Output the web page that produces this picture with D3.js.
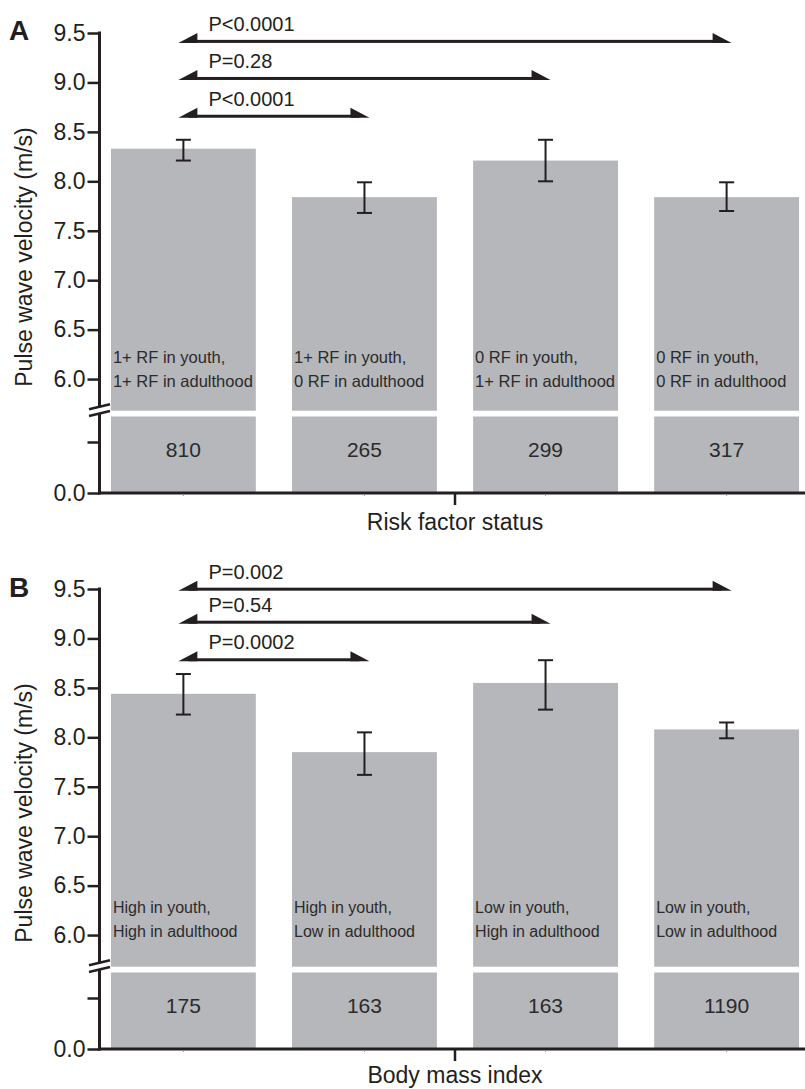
<!DOCTYPE html>
<html>
<head>
<meta charset="utf-8">
<script src="https://cdn.jsdelivr.net/npm/d3@7"></script>
<style>
  body { margin: 0; background: #fff; }
  text { font-family: Arial, "Liberation Sans", Helvetica, sans-serif; }
</style>
</head>
<body>
<div id="chart"></div>
<script>
const width = 805;
const height = 1089;

// panel A - risk factor status
const groupsA = [
  ["1+ RF in youth,", "1+ RF in adulthood"],
  ["1+ RF in youth,", "0 RF in adulthood"],
  ["0 RF in youth,", "1+ RF in adulthood"],
  ["0 RF in youth,", "0 RF in adulthood"]
];
const meanA = [8.33, 7.84, 8.21, 7.84];
const lowA = [8.21, 7.68, 8.0, 7.7];
const highA = [8.42, 7.99, 8.42, 7.99];
const countA = [810, 265, 299, 317];
const pLabelsA = ["P<0.0001", "P=0.28", "P<0.0001"];
const pTargetsA = [3, 2, 1];
const pLevelsA = [9.4, 9.025, 8.643];

// panel B - body mass index
const groupsB = [
  ["High in youth,", "High in adulthood"],
  ["High in youth,", "Low in adulthood"],
  ["Low in youth,", "High in adulthood"],
  ["Low in youth,", "Low in adulthood"]
];
const meanB = [8.44, 7.85, 8.55, 8.08];
const lowB = [8.23, 7.62, 8.28, 7.99];
const highB = [8.64, 8.05, 8.78, 8.15];
const countB = [175, 163, 163, 1190];
const pLabelsB = ["P=0.002", "P=0.54", "P=0.0002"];
const pTargetsB = [3, 2, 1];
const pLevelsB = [9.483, 9.149, 8.769];

// axis ticks
const upperTicks = [6.0, 6.5, 7.0, 7.5, 8.0, 8.5, 9.0, 9.5];
const lowerTicks = [0, 1];
const upperDomain = [5.68, 9.5];
const lowerDomain = [0, 1.5];

const barColor = "#b6b7ba";
const ink = "#231f20";

const svg = d3.select("#chart")
  .append("svg")
  .attr("width", width)
  .attr("height", height)
  .attr("viewBox", [0, 0, width, height]);

function drawPanel(cfg) {
  const off = cfg.offset;
  const g = svg.append("g");

  const idx = d3.range(cfg.mean.length);
  const x = d3.scaleBand()
    .domain(idx)
    .range([99, 811])
    .paddingInner(0.2)
    .paddingOuter(0.066);

  const yU = d3.scaleLinear().domain(upperDomain).range([off + 410.7, off + 33]);
  const yL = d3.scaleLinear().domain(lowerDomain).range([off + 493, off + 416.5]);

  // bars, upper part
  g.selectAll(".barU")
    .data(cfg.mean)
    .enter()
    .append("rect")
    .attr("x", (d, i) => x(i))
    .attr("width", x.bandwidth())
    .attr("y", d => yU(d))
    .attr("height", d => yU(upperDomain[0]) - yU(d))
    .attr("fill", barColor);

  // bars, lower part (below the break)
  g.selectAll(".barL")
    .data(cfg.mean)
    .enter()
    .append("rect")
    .attr("x", (d, i) => x(i))
    .attr("width", x.bandwidth())
    .attr("y", yL(lowerDomain[1]))
    .attr("height", yL(0) - yL(lowerDomain[1]))
    .attr("fill", barColor);

  // error bars
  const eb = g.selectAll(".err")
    .data(idx)
    .enter()
    .append("g")
    .attr("stroke", ink)
    .attr("stroke-width", 2);
  eb.append("line")
    .attr("x1", i => x(i) + x.bandwidth() / 2)
    .attr("x2", i => x(i) + x.bandwidth() / 2)
    .attr("y1", i => yU(cfg.low[i]))
    .attr("y2", i => yU(cfg.high[i]));
  eb.append("line")
    .attr("x1", i => x(i) + x.bandwidth() / 2 - 7.5)
    .attr("x2", i => x(i) + x.bandwidth() / 2 + 7.5)
    .attr("y1", i => yU(cfg.high[i]))
    .attr("y2", i => yU(cfg.high[i]));
  eb.append("line")
    .attr("x1", i => x(i) + x.bandwidth() / 2 - 7.5)
    .attr("x2", i => x(i) + x.bandwidth() / 2 + 7.5)
    .attr("y1", i => yU(cfg.low[i]))
    .attr("y2", i => yU(cfg.low[i]));

  // group labels inside the bars
  const lab = g.selectAll(".grp")
    .data(cfg.groups)
    .enter()
    .append("text")
    .attr("x", (d, i) => x(i) + 2)
    .attr("y", yU(6.0) + cfg.labelShift)
    .attr("font-size", cfg.labelSize)
    .attr("fill", "#2b2b2b");
  lab.append("tspan").text(d => d[0]);
  lab.append("tspan")
    .attr("x", (d, i) => x(i) + 2)
    .attr("dy", 23.5)
    .text(d => d[1]);

  // counts
  g.selectAll(".n")
    .data(cfg.count)
    .enter()
    .append("text")
    .attr("x", (d, i) => x(i) + x.bandwidth() / 2)
    .attr("y", off + 457)
    .attr("text-anchor", "middle")
    .attr("font-size", 21)
    .attr("fill", "#2b2b2b")
    .text(d => d);

  // y axis upper
  const axU = g.append("g")
    .attr("transform", "translate(99.5,0)")
    .call(d3.axisLeft(yU).tickValues(upperTicks).tickSize(12).tickSizeOuter(0).tickFormat(d3.format(".1f")));
  axU.select(".domain").remove();
  axU.selectAll(".tick line").attr("stroke", ink).attr("stroke-width", 2.5);
  axU.selectAll(".tick text")
    .attr("x", -14)
    .attr("font-size", 23)
    .attr("font-family", "Arial, 'Liberation Sans', sans-serif")
    .attr("fill", ink);

  // y axis lower
  const axL = g.append("g")
    .attr("transform", "translate(99.5,0)")
    .call(d3.axisLeft(yL).tickValues(lowerTicks).tickSize(12).tickSizeOuter(0)
      .tickFormat(d => (d === 0 ? "0.0" : "")));
  axL.select(".domain").remove();
  axL.selectAll(".tick line").attr("stroke", ink).attr("stroke-width", 2.5);
  axL.selectAll(".tick text")
    .attr("x", -14)
    .attr("font-size", 23)
    .attr("font-family", "Arial, 'Liberation Sans', sans-serif")
    .attr("fill", ink);

  // axis line with break
  const topEnd = yU(upperDomain[0]) - 4;
  const botStart = yL(lowerDomain[1]) - 3;
  g.append("line")
    .attr("x1", 99.5).attr("x2", 99.5)
    .attr("y1", yU(9.5) - 1.5).attr("y2", topEnd)
    .attr("stroke", ink).attr("stroke-width", 3);
  g.append("line")
    .attr("x1", 99.5).attr("x2", 99.5)
    .attr("y1", botStart).attr("y2", yL(0) + 1.5)
    .attr("stroke", ink).attr("stroke-width", 3);
  [topEnd, botStart].forEach(yy => {
    g.append("line")
      .attr("x1", 89).attr("x2", 110)
      .attr("y1", yy + 2.5).attr("y2", yy - 2.5)
      .attr("stroke", ink).attr("stroke-width", 2.5);
  });

  // x axis
  const xAxisY = yL(0);
  g.append("line")
    .attr("x1", 98).attr("x2", width)
    .attr("y1", xAxisY).attr("y2", xAxisY)
    .attr("stroke", ink).attr("stroke-width", 3);
  g.selectAll(".xt")
    .data(idx)
    .enter()
    .append("line")
    .attr("x1", i => x(i) + x.bandwidth() / 2)
    .attr("x2", i => x(i) + x.bandwidth() / 2)
    .attr("y1", xAxisY + 1.5).attr("y2", xAxisY + 3)
    .attr("stroke", "#999").attr("stroke-width", 1);
  const mid = (x.range()[0] + x.range()[1]) / 2;
  g.append("line")
    .attr("x1", mid).attr("x2", mid)
    .attr("y1", xAxisY).attr("y2", xAxisY + 12)
    .attr("stroke", ink).attr("stroke-width", 2.5);
  g.append("text")
    .attr("x", mid)
    .attr("y", off + cfg.xTitleY)
    .attr("text-anchor", "middle")
    .attr("font-size", 23)
    .attr("fill", ink)
    .text(cfg.xTitle);

  // y title
  g.append("text")
    .attr("transform", "translate(32," + (off + 257) + ") rotate(-90)")
    .attr("text-anchor", "middle")
    .attr("font-size", 23)
    .attr("fill", ink)
    .text("Pulse wave velocity (m/s)");

  // panel letter
  g.append("text")
    .attr("x", 9)
    .attr("y", cfg.letterY)
    .attr("font-size", 28)
    .attr("font-weight", "bold")
    .attr("fill", ink)
    .text(cfg.letter);

  // comparison arrows
  const c0 = x(0) + x.bandwidth() / 2;
  cfg.pTargets.forEach((t, k) => {
    const x0 = c0 - 5;
    const x1 = x(t) + x.bandwidth() / 2 + 5;
    const yy = yU(cfg.pLevels[k]);
    g.append("rect")
      .attr("x", x0 + 10).attr("width", x1 - x0 - 20)
      .attr("y", yy - 3).attr("height", 3)
      .attr("fill", ink);
    g.append("path")
      .attr("d", `M${x0},${yy} L${x0 + 19},${yy - 10} L${x0 + 19},${yy} Z`)
      .attr("fill", ink);
    g.append("path")
      .attr("d", `M${x1},${yy} L${x1 - 19},${yy - 10} L${x1 - 19},${yy} Z`)
      .attr("fill", ink);
    g.append("text")
      .attr("x", c0 + 25)
      .attr("y", yy - 12)
      .attr("font-size", 20)
      .attr("fill", ink)
      .text(cfg.pLabels[k]);
  });
}

drawPanel({
  offset: 0, letter: "A", letterY: 40, xTitle: "Risk factor status", xTitleY: 530,
  groups: groupsA, mean: meanA, low: lowA, high: highA, count: countA,
  pLabels: pLabelsA, pTargets: pTargetsA, pLevels: pLevelsA,
  labelShift: -16, labelSize: 16.5
});

drawPanel({
  offset: 556, letter: "B", letterY: 597, xTitle: "Body mass index", xTitleY: 527,
  groups: groupsB, mean: meanB, low: lowB, high: highB, count: countB,
  pLabels: pLabelsB, pTargets: pTargetsB, pLevels: pLevelsB,
  labelShift: -22, labelSize: 16
});
</script>
</body>
</html>
